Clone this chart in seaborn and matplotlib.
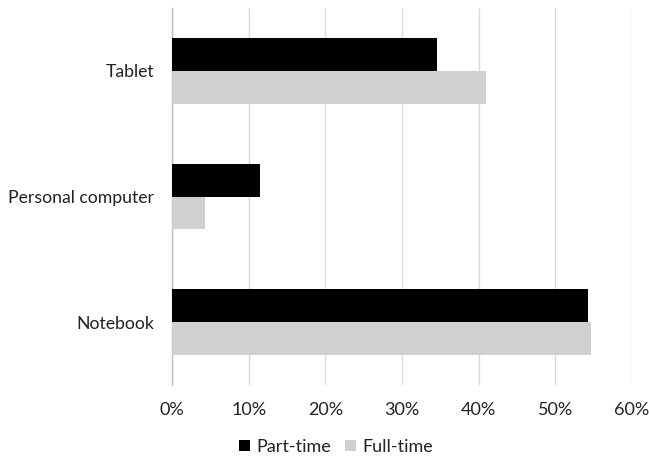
import matplotlib
matplotlib.use("Agg")
import matplotlib.pyplot as plt
import seaborn as sns
import pandas as pd
from matplotlib.patches import Patch
from matplotlib.ticker import FuncFormatter, MultipleLocator

# Device usage by employment type (share of respondents)
devices = ["Tablet", "Personal computer", "Notebook"]
part_time = [0.345, 0.115, 0.543]
full_time = [0.409, 0.043, 0.547]
groups = ["Part-time", "Full-time"]
colors = {"Part-time": "#000000", "Full-time": "#d0d0d0"}

df = pd.DataFrame({
    "device": devices * 2,
    "share": part_time + full_time,
    "group": [groups[0]] * len(devices) + [groups[1]] * len(devices),
})

sns.set_theme(style="white")
plt.rcParams["font.family"] = ["Lato", "DejaVu Sans"]

fig = plt.figure(figsize=(6.49, 4.57), dpi=100)
ax = fig.add_axes([172 / 649, 1 - 385 / 457, 460 / 649, 377 / 457])

sns.barplot(data=df, x="share", y="device", hue="group", order=devices,
            hue_order=groups, palette=colors, width=0.52, orient="h",
            saturation=1, ax=ax, legend=False, linewidth=0, zorder=3)

ax.set_xlim(0, 0.6)
ax.xaxis.set_major_locator(MultipleLocator(0.1))
ax.xaxis.set_major_formatter(FuncFormatter(lambda v, _: f"{v * 100:.0f}%"))
ax.grid(axis="x", color="#d9d9d9", linewidth=1, zorder=0)
ax.set_axisbelow(True)
ax.set_xlabel("")
ax.set_ylabel("")
for side in ["top", "right", "bottom"]:
    ax.spines[side].set_visible(False)
ax.spines["left"].set_color("#bfbfbf")
ax.spines["left"].set_linewidth(1)
ax.tick_params(axis="x", length=0, pad=12, labelsize=13, colors="#222222")
ax.tick_params(axis="y", length=0, pad=13, labelsize=12.7, colors="#222222")

handles = [Patch(facecolor=colors[g], edgecolor="none", label=g) for g in groups]
fig.legend(handles=handles, loc="center", bbox_to_anchor=(336 / 649, 1 - 447 / 457),
           ncol=2, frameon=False, fontsize=13, handlelength=0.6, handleheight=0.6,
           handletextpad=0.35, columnspacing=0.8, labelcolor="#222222")

fig.savefig("out.png", dpi=100, facecolor="white")
